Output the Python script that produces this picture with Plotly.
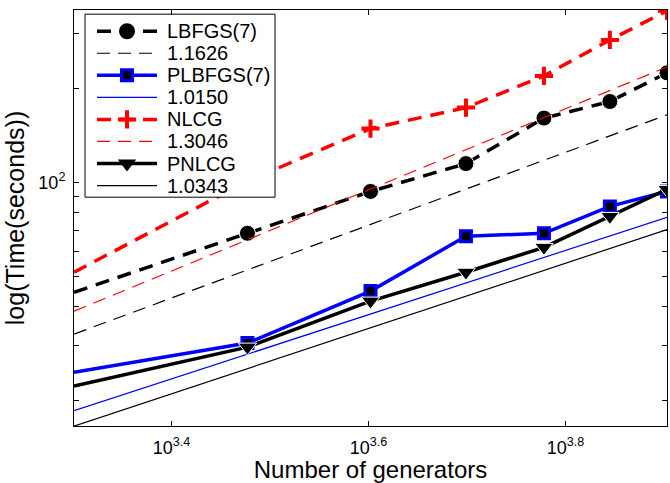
import plotly.graph_objects as go

# ---------------- data ----------------
generators = [2000, 3000, 4000, 5000, 6000, 7000, 8000]

lbfgs_time = [44.4, 68.7, 93.6, 115, 161, 182, 225]
plbfgs_time = [24.6, 30.5, 44.8, 67.2, 68.7, 83.8, 93.6]
nlcg_time = [51.5, 101, 149, 174, 220, 287, 356]
pnlcg_time = [22.2, 29.6, 41.6, 51.5, 61.9, 77.8, 95.0]

fit_x = [2000, 8000]
fit_lbfgs = [32.6, 165]      # slope 1.1626
fit_plbfgs = [18.5, 77.3]    # slope 1.0150
fit_nlcg = [38.6, 235]       # slope 1.3046
fit_pnlcg = [16.5, 70.6]     # slope 1.0343

names = ["LBFGS(7)", "1.1626", "PLBFGS(7)", "1.0150", "NLCG", "1.3046", "PNLCG", "1.0343"]

x_tickvals = [10 ** 3.4, 10 ** 3.6, 10 ** 3.8]
x_ticktext = ["10<sup>3.4</sup>", "10<sup>3.6</sup>", "10<sup>3.8</sup>"]
y_tickvals = [100]
y_ticktext = ["10<sup>2</sup>"]
y_minor_tickvals = [20, 30, 40, 50, 60, 70, 80, 90, 200, 300]

FONT = "Liberation Sans, Arial, Helvetica, sans-serif"
BLUE = "#0000ff"
RED = "#ff0000"
THICK_DASH = "14px,9px"
THIN_DASH = "13px,8px"

# styles per legend entry (same order as names)
styles = [
    dict(line=dict(color="black", width=3.5, dash=THICK_DASH),
         marker=dict(symbol="circle", size=16, color="black", opacity=1)),
    dict(line=dict(color="black", width=1.2, dash=THIN_DASH), marker=None),
    dict(line=dict(color=BLUE, width=3.5),
         marker=dict(symbol="square", size=11, color="black", opacity=1,
                     line=dict(color=BLUE, width=3))),
    dict(line=dict(color=BLUE, width=1.2), marker=None),
    dict(line=dict(color=RED, width=3.5, dash=THICK_DASH),
         marker=dict(symbol="cross-thin", size=13, opacity=1,
                     line=dict(color=RED, width=4))),
    dict(line=dict(color=RED, width=1.2, dash=THIN_DASH), marker=None),
    dict(line=dict(color="black", width=3.5),
         marker=dict(symbol="triangle-down", size=16, color="black", opacity=1)),
    dict(line=dict(color="black", width=1.2), marker=None),
]
series_y = [lbfgs_time, fit_lbfgs, plbfgs_time, fit_plbfgs, nlcg_time, fit_nlcg, pnlcg_time, fit_pnlcg]
series_x = [generators, fit_x, generators, fit_x, generators, fit_x, generators, fit_x]

fig = go.Figure()

for name, xs, ys, st in zip(names, series_x, series_y, styles):
    if st["marker"] is not None:
        mk = dict(st["marker"])
        # no marker at the first (left-edge) point
        mk["size"] = [0] + [mk["size"]] * (len(xs) - 1)
        fig.add_trace(go.Scatter(x=xs, y=ys, name=name, mode="lines+markers",
                                 line=st["line"], marker=mk, showlegend=False))
    else:
        fig.add_trace(go.Scatter(x=xs, y=ys, name=name, mode="lines",
                                 line=st["line"], showlegend=False))

# ---------------- legend box (MATLAB style), drawn on an overlay [0,1] axis ----------------
box_x0, box_x1, box_y0, box_y1 = 0.0186, 0.339, 0.550, 0.990
row_top, row_step = 0.949, 0.0530
line_x0, line_x1, mark_x, text_x = 0.0388, 0.140, 0.0894, 0.1535

fig.add_trace(go.Scatter(x=[box_x0, box_x1, box_x1, box_x0, box_x0],
                         y=[box_y0, box_y0, box_y1, box_y1, box_y0],
                         xaxis="x2", yaxis="y2", mode="lines", fill="toself",
                         fillcolor="white", line=dict(color="black", width=1),
                         showlegend=False, hoverinfo="skip"))
for i, (name, st) in enumerate(zip(names, styles)):
    yy = row_top - i * row_step
    fig.add_trace(go.Scatter(x=[line_x0, line_x1], y=[yy, yy], xaxis="x2", yaxis="y2",
                             mode="lines", line=st["line"], showlegend=False, hoverinfo="skip"))
    if st["marker"] is not None:
        fig.add_trace(go.Scatter(x=[mark_x], y=[yy], xaxis="x2", yaxis="y2",
                                 mode="markers", marker=st["marker"],
                                 showlegend=False, hoverinfo="skip"))
    fig.add_annotation(x=text_x, y=yy, xref="paper", yref="paper", text=name,
                       showarrow=False, xanchor="left", yanchor="middle",
                       font=dict(size=20, family=FONT, color="black"))

fig.update_layout(
    width=670, height=483,
    margin=dict(l=74, r=3, t=10, b=57),
    paper_bgcolor="white", plot_bgcolor="white",
    font=dict(family=FONT, size=16, color="black"),
    showlegend=False,
    xaxis=dict(type="log", range=[3.30103, 3.90309],
               tickvals=x_tickvals, ticktext=x_ticktext,
               ticks="inside", ticklen=5, tickcolor="black",
               showline=True, linecolor="black", linewidth=1, mirror="ticks",
               showgrid=False, zeroline=False, ticklabelstandoff=5,
               tickfont=dict(size=18), automargin=False,
               title=dict(text="Number of generators", font=dict(size=24), standoff=10)),
    yaxis=dict(type="log", range=[1.218, 2.554],
               tickvals=y_tickvals, ticktext=y_ticktext,
               ticks="inside", ticklen=5, tickcolor="black",
               minor=dict(tickvals=y_minor_tickvals, ticks="inside", ticklen=5,
                          tickcolor="black", showgrid=False),
               showline=True, linecolor="black", linewidth=1, mirror="ticks",
               showgrid=False, zeroline=False, ticklabelstandoff=4,
               tickfont=dict(size=18), automargin=False,
               title=dict(text="log(Time(seconds))", font=dict(size=25), standoff=6)),
    xaxis2=dict(overlaying="x", anchor="y2", range=[0, 1], visible=False, fixedrange=True),
    yaxis2=dict(overlaying="y", anchor="x2", range=[0, 1], visible=False, fixedrange=True),
)

fig.write_html("out.html")
